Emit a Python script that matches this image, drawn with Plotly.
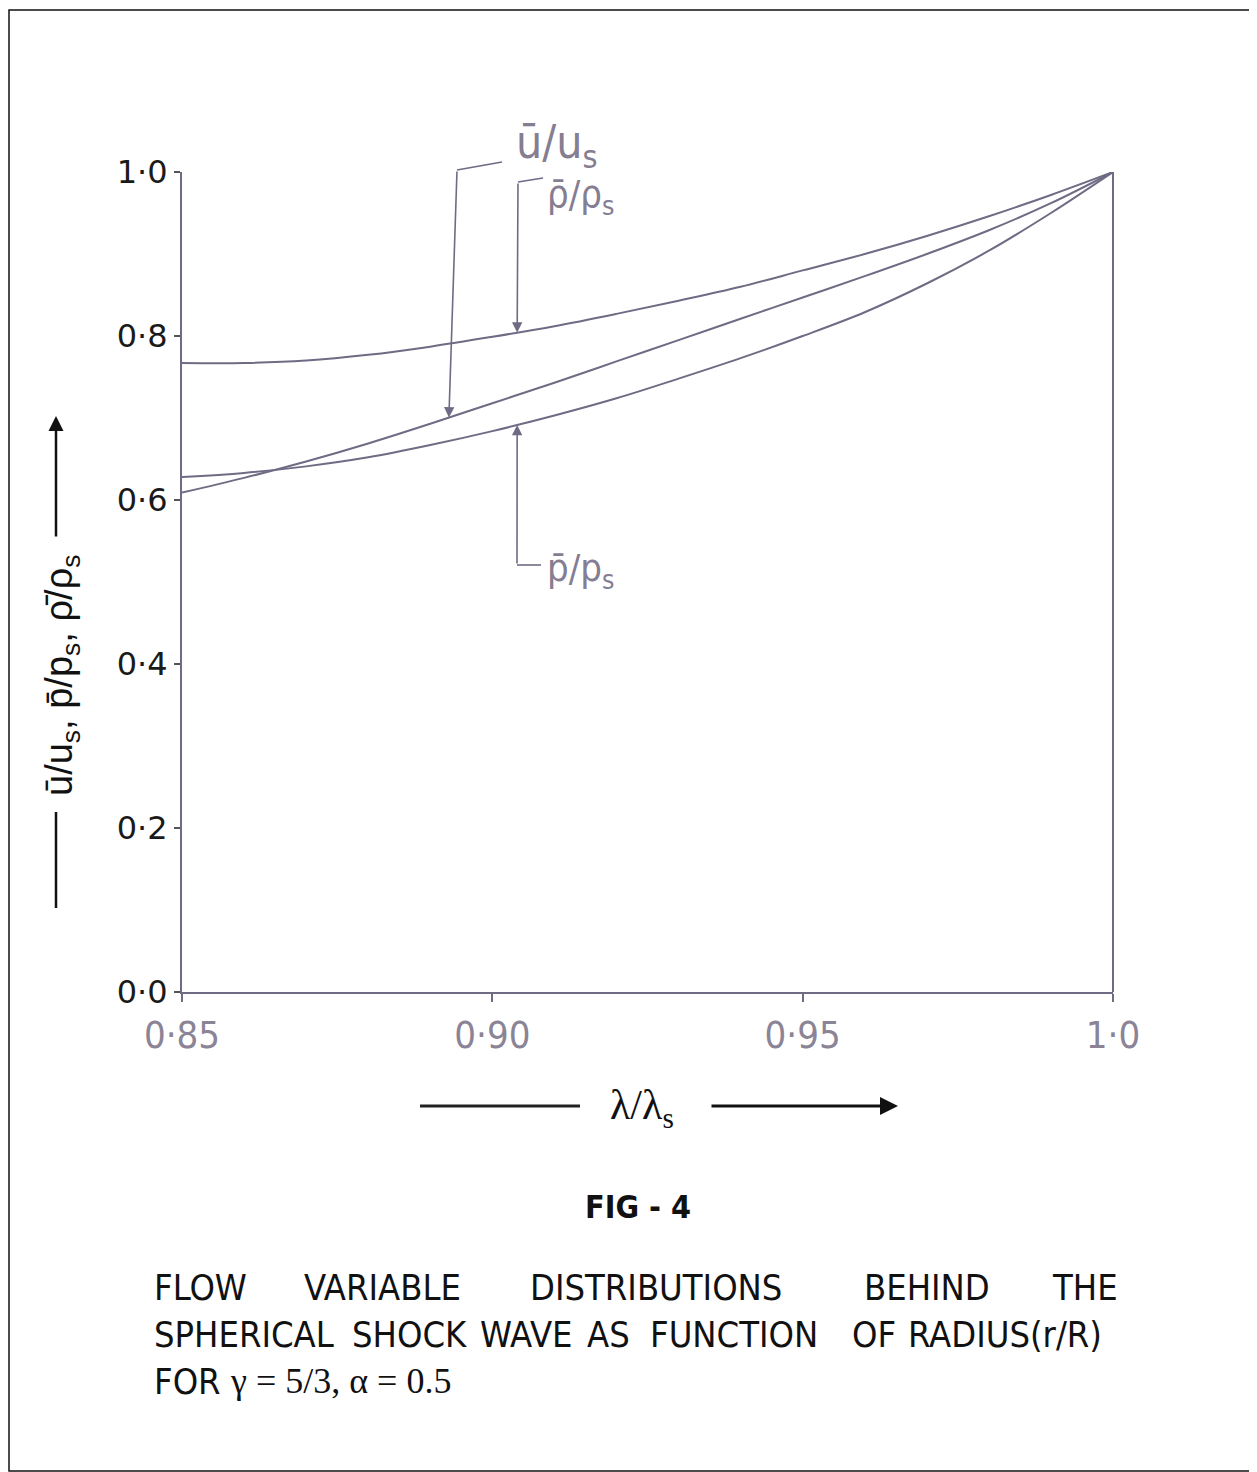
import numpy as np
import plotly.graph_objects as go

# ---------------- data ----------------
x_vals = [0.85, 0.86, 0.87, 0.88, 0.89, 0.90, 0.91, 0.92, 0.93, 0.94,
          0.95, 0.96, 0.97, 0.98, 0.99, 1.00]
rho_bar = [0.767, 0.767, 0.770, 0.777, 0.787, 0.799, 0.812, 0.827, 0.843, 0.860,
           0.880, 0.900, 0.922, 0.946, 0.972, 1.000]
u_bar = [0.609, 0.627, 0.647, 0.669, 0.693, 0.718, 0.743, 0.769, 0.795, 0.821,
         0.847, 0.873, 0.900, 0.929, 0.962, 1.000]
p_bar = [0.628, 0.633, 0.641, 0.652, 0.667, 0.684, 0.703, 0.724, 0.748, 0.773,
         0.800, 0.829, 0.864, 0.904, 0.950, 1.000]

x_ticks = [0.85, 0.90, 0.95, 1.0]
x_tick_text = ["0·85", "0·90", "0·95", "1·0"]
y_ticks = [0.0, 0.2, 0.4, 0.6, 0.8, 1.0]
y_tick_text = ["0·0", "0·2", "0·4", "0·6", "0·8", "1·0"]

# ---------------- layout geometry ----------------
OFF = 8                      # page body margin
W, H = 1257 - OFF, 1472 - OFF
L, R, T, B = 174, 144, 164, 480
PW, PH = W - L - R, H - T - B


def px(xs):
    """screen x -> paper x"""
    return (xs - OFF - L) / PW


def py(ys):
    """screen y -> paper y"""
    return (H - B - (ys - OFF)) / PH


LINE_C = "#6f6b84"
LABEL_C = "#857d92"
NARROW = "Liberation Sans Narrow, DejaVu Sans Condensed, Arial Narrow, sans-serif"

fig = go.Figure()
for series in (rho_bar, u_bar, p_bar):
    fig.add_trace(go.Scatter(x=x_vals, y=series, mode="lines", line_shape="spline",
                             line=dict(color=LINE_C, width=2), cliponaxis=False,
                             showlegend=False, hoverinfo="skip"))

shapes = []
annotations = []


def note(xs, ys, text, font, **kw):
    d = dict(x=px(xs), y=py(ys), xref="paper", yref="paper", text=text,
             showarrow=False, font=font, xanchor="center", yanchor="middle")
    d.update(kw)
    annotations.append(d)


def seg(x0, y0, x1, y1, color, width):
    shapes.append(dict(type="line", xref="paper", yref="paper",
                       x0=px(x0), y0=py(y0), x1=px(x1), y1=py(y1),
                       line=dict(color=color, width=width)))


# right-hand boundary line
shapes.append(dict(type="line", xref="paper", yref="paper", x0=1, x1=1, y0=0, y1=1,
                   line=dict(color=LINE_C, width=2)))
# outer frame
shapes.append(dict(type="rect", xref="paper", yref="paper",
                   x0=px(9), x1=px(1250), y0=py(10), y1=py(1471),
                   line=dict(color="#111", width=1.5)))


def arrow_to_curve(xv, series, tail_xs, tail_ys):
    yv = float(np.interp(xv, x_vals, series))
    tip_xs = OFF + L + (xv - 0.85) / 0.15 * PW
    tip_ys = OFF + T + (1.0 - yv) * PH
    annotations.append(dict(x=xv, y=yv, xref="x", yref="y", text="", showarrow=True,
                            ax=tail_xs - tip_xs, ay=tail_ys - tip_ys,
                            arrowhead=2, arrowsize=1.3, arrowwidth=1.6,
                            arrowcolor=LINE_C, standoff=0))


# u-bar leader
arrow_to_curve(0.893, u_bar, 457, 170)
seg(457, 170, 502, 162, LINE_C, 1.6)
# rho-bar leader
arrow_to_curve(0.904, rho_bar, 518, 182)
seg(518, 182, 543, 178, LINE_C, 1.6)
# p-bar leader
arrow_to_curve(0.904, p_bar, 517, 565)
seg(517, 565, 541, 565, LINE_C, 1.6)

note(557, 146, "ū/u<sub>s</sub>", dict(family=NARROW, size=46, color=LABEL_C))
note(580, 196, "ρ̄/ρ<sub>s</sub>", dict(family=NARROW, size=38, color=LABEL_C))
note(580, 570, "p̄/p<sub>s</sub>", dict(family=NARROW, size=38, color=LABEL_C))

# y-axis title with arrows
note(62, 675, "ū/u<sub>s</sub>, p̄/p<sub>s</sub>, ρ̄/ρ<sub>s</sub>",
     dict(family="Liberation Sans, Arial, sans-serif", size=38, color="#111"),
     textangle=-90)
seg(56, 812, 56, 908, "#111", 2.5)
annotations.append(dict(x=px(56), y=py(416), xref="paper", yref="paper", text="",
                        showarrow=True, ax=0, ay=122, arrowhead=2, arrowsize=1.2,
                        arrowwidth=2.5, arrowcolor="#111", standoff=0))

# x-axis title with arrows
note(642, 1108, "λ/λ<sub>s</sub>",
     dict(family="Liberation Serif, Times New Roman, serif", size=42, color="#111"))
seg(420, 1106, 580, 1106, "#222", 3)
annotations.append(dict(x=px(898), y=py(1106), xref="paper", yref="paper", text="",
                        showarrow=True, ax=-188, ay=0, arrowhead=2, arrowsize=1.2,
                        arrowwidth=3, arrowcolor="#111", standoff=0))

# figure number
note(638, 1207, "<b>FIG - 4</b>", dict(family=NARROW, size=32, color="#111"))

# caption, word by word
cap_font = dict(family=NARROW, size=36, color="#111")
line1 = [("FLOW", 152), ("VARIABLE", 302), ("DISTRIBUTIONS", 528), ("BEHIND", 862),
         ("THE", 1050)]
line2 = [("SPHERICAL", 152), ("SHOCK", 350), ("WAVE", 478), ("AS", 585),
         ("FUNCTION", 648), ("OF", 850), ("RADIUS(r/R)", 906)]
for words, yc in ((line1, 1287), (line2, 1334)):
    for w, xl in words:
        note(xl, yc, w, cap_font, xanchor="left")
note(152, 1381, "FOR", cap_font, xanchor="left")
note(228, 1381, "γ = 5/3, α = 0.5",
     dict(family="Liberation Serif, Times New Roman, serif", size=36, color="#111"),
     xanchor="left")

fig.update_layout(
    width=W, height=H,
    margin=dict(l=L, r=R, t=T, b=B, pad=0),
    paper_bgcolor="white", plot_bgcolor="white",
    shapes=shapes, annotations=annotations,
    xaxis=dict(range=[0.85, 1.0], tickvals=x_ticks, ticktext=x_tick_text,
               showgrid=False, zeroline=False, showline=True, linecolor=LINE_C,
               linewidth=2, ticks="outside", ticklen=8, tickcolor=LINE_C, tickwidth=2,
               ticklabelstandoff=0,
               tickfont=dict(family=NARROW, size=38, color="#8a8496")),
    yaxis=dict(range=[0, 1.0], tickvals=y_ticks, ticktext=y_tick_text,
               showgrid=False, zeroline=False, showline=True, linecolor=LINE_C,
               linewidth=2, ticks="outside", ticklen=6, tickcolor="#555", tickwidth=2,
               ticklabelstandoff=0,
               tickfont=dict(family="DejaVu Sans, sans-serif", size=32, color="#1a1a1a")),
)

fig.write_html("out.html")
